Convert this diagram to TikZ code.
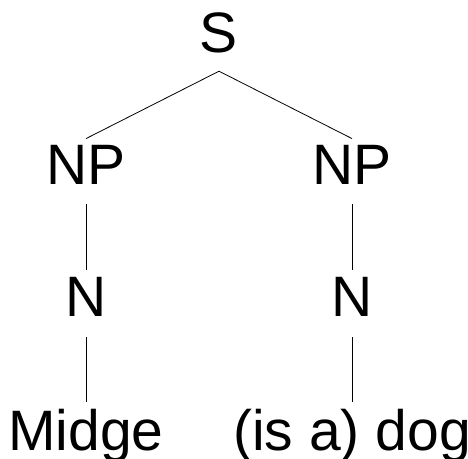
\documentclass[tikz,border=0pt]{standalone}
\usepackage{fontspec}
\setmainfont{Liberation Sans}
\begin{document}
\begin{tikzpicture}[x=1pt,y=1pt,
  cat/.style={inner sep=0pt,text depth=0pt,anchor=base,
    font=\fontsize{57}{60}\selectfont},
  branch/.style={draw=black,line width=0.8pt}]
\useasboundingbox (0,0) rectangle (468,-458);
% phrase-structure tree
\node[cat] (S)   at (219,-52)  {S};
\node[cat] (NPa) at (86,-184)  {NP};
\node[cat] (NPb) at (352,-184) {NP};
\node[cat] (Na)  at (86,-316)  {N};
\node[cat] (Nb)  at (352,-316) {N};
\node[cat] (Wa)  at (86,-450)  {Midge};
\node[cat] (Wb)  at (352,-450) {(is a) dog};
% branches
\draw[branch] ([yshift=-19pt]S.south) -- ([yshift=6pt]NPa.north);
\draw[branch] ([yshift=-19pt]S.south) -- ([yshift=6pt]NPb.north);
\draw[branch] ([yshift=-20pt]NPa.south) -- ([yshift=7pt]Na.north);
\draw[branch] ([yshift=-20pt]NPb.south) -- ([yshift=7pt]Nb.north);
\draw[branch] ([yshift=-21pt]Na.south) -- ([yshift=7pt]Wa.north);
\draw[branch] ([yshift=-21pt]Nb.south) -- ([yshift=7pt]Wb.north);
\end{tikzpicture}
\end{document}
